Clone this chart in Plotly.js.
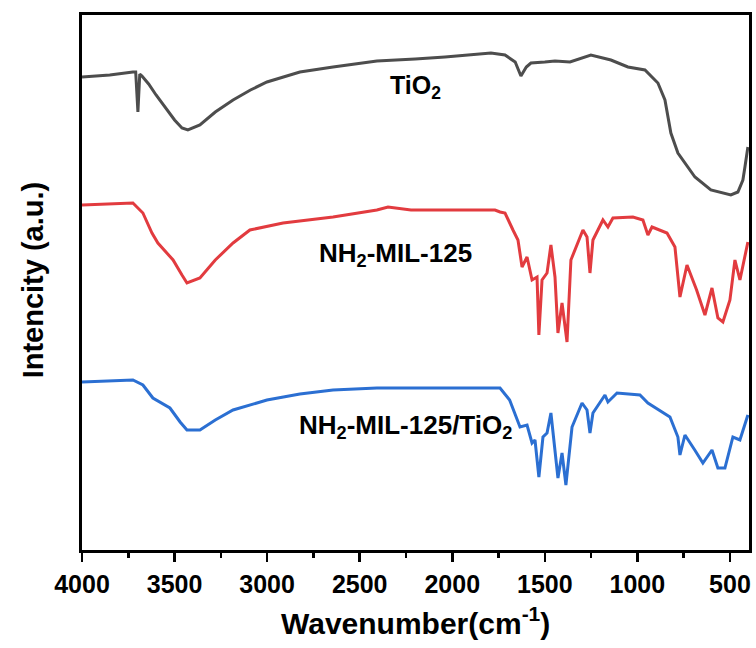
<!DOCTYPE html>
<html>
<head>
<meta charset="utf-8">
<script src="https://cdn.plot.ly/plotly-3.0.1.min.js"></script>
<style>html,body{margin:0;padding:0;background:#fff;}#chart{width:756px;height:648px;}</style>
</head>
<body>
<div id="chart"></div>
<script>
// Wavenumber (cm-1) and intensity (a.u., offset-stacked) for each spectrum
const tio2Wn = [4000, 3850, 3725, 3710, 3698, 3688, 3676, 3640, 3600, 3550, 3500, 3460, 3428, 3363, 3280, 3184, 3090, 3001, 2900, 2823, 2644, 2407, 2200, 2039, 1791, 1715, 1660, 1629, 1600, 1575, 1500, 1445, 1364, 1300, 1251, 1143, 1051, 959, 889, 851, 819, 781, 730, 689, 603, 495, 457, 430, 419, 403];
const tio2Int = [473, 475, 478, 478, 438, 476, 474, 466, 455, 442, 430, 422, 420, 425, 438, 450, 460, 468, 474, 478, 483, 489, 491, 493, 497, 495, 488, 474, 483, 487, 488, 489, 488, 492, 495, 490, 483, 480, 467, 450, 417, 397, 383, 373, 360, 355, 358, 370, 383, 403];

const milWn = [4000, 3850, 3725, 3671, 3622, 3590, 3508, 3460, 3433, 3363, 3280, 3184, 3093, 2914, 2644, 2407, 2347, 2223, 2000, 1769, 1742, 1715, 1672, 1645, 1623, 1596, 1569, 1542, 1532, 1515, 1488, 1467, 1445, 1429, 1407, 1380, 1359, 1337, 1294, 1272, 1256, 1240, 1186, 1159, 1132, 1024, 970, 943, 921, 840, 797, 770, 732, 680, 635, 597, 565, 538, 500, 473, 446, 403];
const milInt = [345, 346, 347, 337, 317, 307, 290, 275, 267, 272, 290, 307, 320, 327, 333, 340, 343, 340, 340, 340, 338, 337, 320, 310, 283, 293, 270, 273, 215, 270, 277, 305, 273, 217, 247, 208, 290, 300, 320, 313, 277, 310, 330, 323, 332, 333, 330, 315, 323, 317, 303, 253, 285, 260, 235, 262, 232, 228, 250, 290, 270, 308];

const compWn = [4000, 3850, 3725, 3671, 3617, 3525, 3470, 3433, 3363, 3280, 3184, 3001, 2823, 2644, 2407, 2000, 1769, 1742, 1690, 1634, 1596, 1569, 1553, 1532, 1510, 1488, 1467, 1445, 1429, 1407, 1386, 1353, 1299, 1272, 1256, 1240, 1175, 1159, 1110, 986, 943, 824, 781, 770, 743, 690, 646, 597, 565, 527, 484, 446, 403];
const compInt = [168, 169, 170, 165, 152, 142, 128, 120, 120, 130, 140, 150, 156, 160, 162, 162, 162, 162, 150, 123, 125, 107, 110, 73, 113, 117, 137, 97, 72, 97, 65, 123, 147, 140, 117, 137, 155, 148, 157, 155, 147, 133, 113, 95, 115, 100, 87, 100, 82, 82, 113, 110, 135];

const seriesNames = ['TiO<sub>2</sub>', 'NH<sub>2</sub>-MIL-125', 'NH<sub>2</sub>-MIL-125/TiO<sub>2</sub>'];
const tickVals = [4000, 3500, 3000, 2500, 2000, 1500, 1000, 500];
const tickText = ['4000', '3500', '3000', '2500', '2000', '1500', '1000', '500'];

const font = {family: 'Liberation Sans, Arial, sans-serif', color: '#000', weight: 'bold'};

const traces = [
  {x: tio2Wn, y: tio2Int, name: seriesNames[0], mode: 'lines', line: {color: '#4d4d4d', width: 3}},
  {x: milWn, y: milInt, name: seriesNames[1], mode: 'lines', line: {color: '#e23b3f', width: 3}},
  {x: compWn, y: compInt, name: seriesNames[2], mode: 'lines', line: {color: '#2b6fd2', width: 3}}
];

const layout = {
  width: 756, height: 648,
  margin: {l: 82, r: 7, t: 15, b: 98},
  paper_bgcolor: '#fff', plot_bgcolor: '#fff',
  showlegend: false,
  xaxis: {
    range: [4000, 397],
    tickvals: tickVals, ticktext: tickText,
    ticks: 'outside', ticklen: 9, tickwidth: 2.5, tickcolor: '#000',
    ticklabelstandoff: 1,
    minor: {dtick: 250, ticks: 'outside', ticklen: 5, tickwidth: 2.5, tickcolor: '#000'},
    showline: true, linewidth: 3, linecolor: '#000', mirror: true,
    showgrid: false, zeroline: false,
    tickfont: Object.assign({size: 25}, font)
  },
  yaxis: {
    range: [0, 535],
    showticklabels: false, ticks: '',
    showline: true, linewidth: 3, linecolor: '#000', mirror: true,
    showgrid: false, zeroline: false
  },
  annotations: [
    {text: seriesNames[0], x: 2201, y: 463, xref: 'x', yref: 'y', showarrow: false, font: Object.assign({size: 25}, font)},
    {text: seriesNames[1], x: 2304, y: 296, xref: 'x', yref: 'y', showarrow: false, font: Object.assign({size: 26}, font)},
    {text: seriesNames[2], x: 2255, y: 124, xref: 'x', yref: 'y', showarrow: false, font: Object.assign({size: 26}, font)},
    {text: 'Wavenumber(cm<sup>-1</sup>)', x: 0.5, y: 0, xref: 'paper', yref: 'paper', xanchor: 'center', yanchor: 'middle', yshift: -71, showarrow: false, font: Object.assign({size: 30}, font)},
    {text: 'Intencity (a.u.)', x: 0, y: 0.504, xref: 'paper', yref: 'paper', xanchor: 'center', yanchor: 'middle', xshift: -49, textangle: -90, showarrow: false, font: Object.assign({size: 29}, font)}
  ]
};

Plotly.newPlot('chart', traces, layout, {displayModeBar: false, staticPlot: true});
</script>
</body>
</html>
